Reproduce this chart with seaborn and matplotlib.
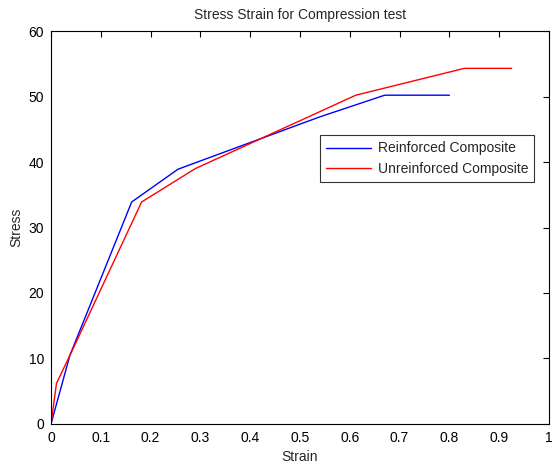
import matplotlib
matplotlib.use("Agg")
import matplotlib.pyplot as plt
import seaborn as sns
import pandas as pd

# === Données ===
strain_reinforced = [0.0, 0.038, 0.162, 0.255, 0.54, 0.67, 0.80]
stress_reinforced = [0.0, 10.5, 33.9, 38.9, 46.9, 50.2, 50.2]

strain_unreinforced = [0.0, 0.011, 0.04, 0.182, 0.29, 0.612, 0.83, 0.925]
stress_unreinforced = [0.0, 6.2, 10.8, 33.9, 39.0, 50.2, 54.3, 54.3]

labels = ["Reinforced Composite", "Unreinforced Composite"]
x_ticks = [0, 0.1, 0.2, 0.3, 0.4, 0.5, 0.6, 0.7, 0.8, 0.9, 1]
y_ticks = [0, 10, 20, 30, 40, 50, 60]

df = pd.concat([
    pd.DataFrame({"Strain": strain_reinforced, "Stress": stress_reinforced,
                  "serie": labels[0]}),
    pd.DataFrame({"Strain": strain_unreinforced, "Stress": stress_unreinforced,
                  "serie": labels[1]}),
])

sns.set_style("white")
plt.rcParams["font.family"] = ["Liberation Sans", "DejaVu Sans"]
plt.rcParams["xtick.direction"] = "in"
plt.rcParams["ytick.direction"] = "in"

fig = plt.figure(figsize=(5.52, 4.65), dpi=100)
ax = fig.add_axes([0.0924, 0.0882, 0.9022, 0.8451])

sns.lineplot(data=df, x="Strain", y="Stress", hue="serie", sort=False,
             estimator=None, palette=["#0000FF", "#FF0000"], linewidth=1,
             ax=ax)

ax.set_xlim(0, 1)
ax.set_ylim(0, 60)
ax.set_xticks(x_ticks)
ax.set_xticklabels([f"{t:g}" for t in x_ticks])
ax.set_yticks(y_ticks)
ax.tick_params(axis="both", labelsize=10, length=4, width=0.8,
               top=True, right=True, colors="black", pad=5)
for s in ax.spines.values():
    s.set_color("black")
    s.set_linewidth(0.8)

ax.set_title("Stress Strain for Compression test", fontsize=10, pad=9)
ax.set_xlabel("Strain", fontsize=10, labelpad=4)
ax.set_ylabel("Stress", fontsize=10, labelpad=4)

leg = ax.legend(loc="upper left", bbox_to_anchor=(0.540, 0.735),
                fontsize=10, frameon=True, fancybox=False, handlelength=3.2,
                borderpad=0.45, labelspacing=0.45, handletextpad=0.5,
                borderaxespad=0)
leg.get_frame().set_edgecolor("black")
leg.get_frame().set_linewidth(0.8)

fig.savefig("out.png", dpi=100)
